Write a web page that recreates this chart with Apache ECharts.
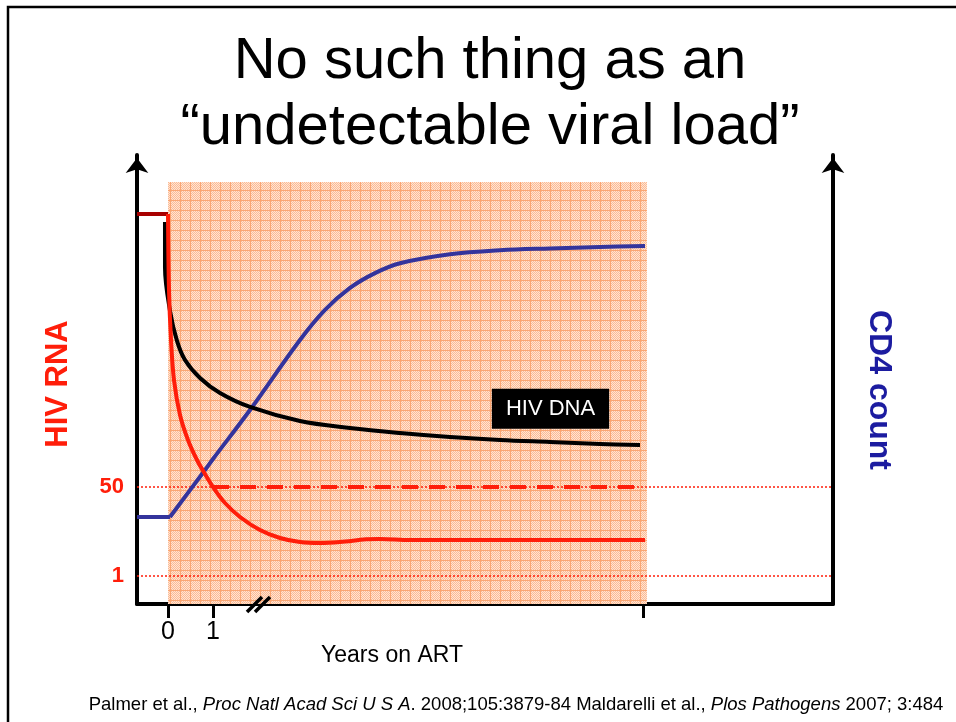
<!DOCTYPE html>
<html><head><meta charset="utf-8">
<script src="https://cdn.jsdelivr.net/npm/echarts@6/dist/echarts.min.js"></script>
<style>html,body{margin:0;padding:0;background:#fff}#c{width:956px;height:722px}</style>
</head><body><div id="c"></div>
<script>
// ---------- data ----------
const titleLines = ['No such thing as an', '\u201Cundetectable viral load\u201D'];
const xAxisTitle = 'Years on ART';
const leftAxisName = 'HIV RNA';
const rightAxisName = 'CD4 count';
const dnaLabel = 'HIV DNA';
const citationParts = [
  ['n', 'Palmer et al., '], ['i', 'Proc Natl Acad Sci U S A'], ['n', '. 2008;105:3879-84 Maldarelli et al., '],
  ['i', 'Plos Pathogens'], ['n', ' 2007; 3:484']
];
const xRange = [-0.689, 14.778];
const yRange = [0, 100];
const xTickValues = [0, 1, 10.556];
const xTickLabelValues = [0, 1];
const rnaThresholds = [26.06, 6.24];
const rnaThresholdLabels = ['50', '1'];
const artWindowX = [0, 10.644];
const artWindowTop = 94.0;
const axisBreakAt = 2.0;
const dnaLabelAt = [8.5, 43.5];

const rnaPreART = [[-0.689, 86.86], [0, 86.86]];
const rnaOnART = [[0, 86.86], [0.022, 69.93], [0.067, 58.8], [0.133, 49.89], [0.267, 42.09], [0.444, 36.53],
  [0.644, 32.07], [0.822, 28.95], [1.0, 26.06], [1.267, 22.49], [1.6, 19.38], [2.044, 16.48], [2.489, 14.7],
  [2.933, 13.81], [3.378, 13.59], [3.822, 13.81], [4.4, 14.4], [4.711, 14.5], [5.378, 14.25], [10.6, 14.25]];
const rnaBelow50 = [[1.0, 26.06], [10.6, 26.06]];
const dnaOnART = [[-0.067, 85.1], [-0.067, 75.0], [0.044, 65.3], [0.2, 58.6], [0.378, 54.34], [0.711, 50.33],
  [1.156, 46.99], [1.822, 43.88], [2.933, 40.76], [4.044, 39.2], [5.156, 38.08], [6.267, 37.19], [7.378, 36.53],
  [8.489, 36.08], [9.6, 35.63], [10.489, 35.41]];
const cd4PreART = [[-0.689, 19.38], [0.044, 19.38]];
const cd4OnART = [[0.044, 19.38], [0.822, 29.84], [1.0, 32.3], [1.822, 43.21], [2.933, 58.8], [3.489, 65.5],
  [4.044, 70.4], [4.6, 73.7], [5.156, 75.9], [6.267, 77.9], [7.378, 78.8], [8.489, 79.2], [9.6, 79.51], [10.6, 79.73]];

// ---------- styling ----------
const RED = '#ff1e0a';
const FONT = '"Liberation Sans", Arial, sans-serif';

function makePattern() {
  const c = document.createElement('canvas'); c.width = 10; c.height = 10;
  const g = c.getContext('2d');
  g.fillStyle = '#fee4d4'; g.fillRect(0, 0, 10, 10);
  g.fillStyle = '#fcbb94';
  for (let y = 0; y < 10; y++) for (let x = 0; x < 10; x++) if ((x + y) % 2 === 0) g.fillRect(x, y, 1, 1);
  g.fillStyle = '#faa673'; g.fillRect(0, 0, 10, 1); g.fillRect(0, 0, 1, 10);
  return c;
}

const chart = echarts.init(document.getElementById('c'), null, { renderer: 'canvas' });

function lineSeries(data, color, width, extra) {
  return Object.assign({ type: 'line', data, symbol: 'none', silent: true, z: 5,
    lineStyle: { color, width, cap: 'butt', join: 'round' } }, extra || {});
}

const axisLineStyle = { color: '#000', width: 4 };
const arrowLine = { show: true, onZero: false, lineStyle: axisLineStyle, symbol: ['none', 'arrow'], symbolSize: [17, 15], symbolOffset: [0, -3] };

chart.setOption({
  animation: false,
  grid: { left: 137, right: 123, top: 155, bottom: 118 },
  xAxis: {
    type: 'value', min: xRange[0], max: xRange[1],
    axisLine: { show: true, onZero: false, lineStyle: axisLineStyle },
    axisTick: { show: true, customValues: xTickValues, length: 14, lineStyle: { color: '#000', width: 3 } },
    axisLabel: { customValues: xTickLabelValues, margin: 16, fontSize: 25, color: '#000', fontFamily: FONT },
    splitLine: { show: false }
  },
  yAxis: [{
    type: 'value', min: yRange[0], max: yRange[1], position: 'left',
    axisLine: arrowLine,
    axisTick: { show: false },
    axisLabel: { customValues: rnaThresholds, margin: 13, fontSize: 22, fontWeight: 'bold', color: RED, fontFamily: FONT,
      formatter: v => { let bi = 0; rnaThresholds.forEach((t, i) => { if (Math.abs(t - v) < Math.abs(rnaThresholds[bi] - v)) bi = i; }); return rnaThresholdLabels[bi]; } },
    splitLine: { show: false }
  }, {
    type: 'value', min: yRange[0], max: yRange[1], position: 'right',
    axisLine: arrowLine,
    axisTick: { show: false }, axisLabel: { show: false }, splitLine: { show: false }
  }],
  series: [
    { type: 'line', data: [], z: 1, silent: true,
      markArea: { silent: true, itemStyle: { color: { image: makePattern(), repeat: 'repeat' }, opacity: 1 },
        data: [[{ coord: [artWindowX[0], yRange[0]] }, { coord: [artWindowX[1], artWindowTop] }]] } },
    lineSeries([[xRange[0], rnaThresholds[0]], [xRange[1], rnaThresholds[0]]], RED, 1.6, { lineStyle: { color: RED, width: 1.6, type: [2, 2] }, z: 3 }),
    lineSeries([[xRange[0], rnaThresholds[1]], [xRange[1], rnaThresholds[1]]], RED, 1.6, { lineStyle: { color: RED, width: 1.6, type: [2, 2] }, z: 3 }),
    lineSeries(rnaBelow50, RED, 4, { lineStyle: { color: RED, width: 4, type: [16, 11] } }),
    lineSeries(cd4PreART, '#34349c', 4),
    lineSeries(cd4OnART, '#34349c', 4, { smooth: 0.35 }),
    lineSeries(dnaOnART, '#000', 4, { smooth: 0.35 }),
    lineSeries(rnaPreART, '#a80000', 4),
    lineSeries(rnaOnART, RED, 4, { smooth: 0.35 }),
    { type: 'custom', data: [[axisBreakAt, 0]], z: 10, silent: true, clip: false,
      renderItem: (params, api) => {
        const p = api.coord([api.value(0), api.value(1)]);
        const st = { stroke: '#000', lineWidth: 3.5 };
        return { type: 'group', children: [
          { type: 'line', shape: { x1: p[0] - 11, y1: p[1] + 8, x2: p[0] + 4, y2: p[1] - 7 }, style: st },
          { type: 'line', shape: { x1: p[0] - 3, y1: p[1] + 8, x2: p[0] + 12, y2: p[1] - 7 }, style: st }
        ] };
      } },
    { type: 'scatter', data: [dnaLabelAt], symbolSize: 0, z: 12, silent: true, itemStyle: { opacity: 1 },
      label: { show: true, position: 'inside', formatter: dnaLabel, color: '#ffffff', opacity: 1, fontSize: 22, fontFamily: FONT,
        backgroundColor: '#000000', padding: [9, 14, 9, 14] } }
  ],
  graphic: [
    { type: 'polyline', shape: { points: [[8, 722], [8, 7], [956, 7]] }, style: { stroke: '#000', lineWidth: 2.5, fill: null } },
    { type: 'text', x: 490, y: 62, style: { text: titleLines[0], font: '58px ' + FONT, fill: '#000', textAlign: 'center', textVerticalAlign: 'middle' } },
    { type: 'text', x: 490, y: 128, style: { text: titleLines[1], font: '58px ' + FONT, fill: '#000', textAlign: 'center', textVerticalAlign: 'middle' } },
    { type: 'text', x: 58, y: 384, rotation: Math.PI / 2, style: { text: leftAxisName, font: 'bold 31px ' + FONT, fill: RED, textAlign: 'center', textVerticalAlign: 'middle' } },
    { type: 'text', x: 879, y: 390, rotation: -Math.PI / 2, style: { text: rightAxisName, font: 'bold 32px ' + FONT, fill: '#1c1ca0', textAlign: 'center', textVerticalAlign: 'middle' } },
    { type: 'text', x: 392, y: 656, style: { text: xAxisTitle, font: '23px ' + FONT, fill: '#000', textAlign: 'center', textVerticalAlign: 'middle' } },
    { type: 'text', x: 516, y: 705, style: {
      text: citationParts.map(p => '{' + p[0] + '|' + p[1] + '}').join(''),
      textAlign: 'center', textVerticalAlign: 'middle', fill: '#000',
      rich: { n: { fontSize: 18.5, fontFamily: FONT, color: '#000' }, i: { fontSize: 18.5, fontFamily: FONT, fontStyle: 'italic', color: '#000' } } } }
  ]
});
</script></body></html>
